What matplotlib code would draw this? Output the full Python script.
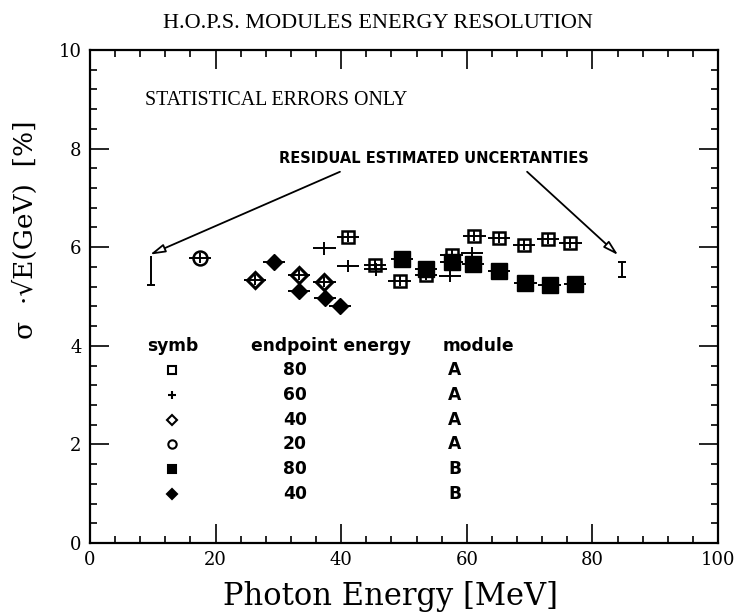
import numpy as np
import matplotlib.pyplot as plt

# data (photon energy [MeV], sigma*sqrt(E) [%])
a80_x = [41.1, 45.4, 49.3, 53.5, 57.6, 61.2, 65.1, 69.1, 72.9, 76.5]
a80_y = [6.20, 5.64, 5.31, 5.43, 5.84, 6.22, 6.19, 6.05, 6.16, 6.08]

a60_x = [37.3, 41.1, 45.5, 57.3, 60.8]
a60_y = [5.98, 5.62, 5.55, 5.42, 5.88]

a40_x = [26.3, 33.3, 37.3]
a40_y = [5.33, 5.43, 5.29]

a20_x = [17.5]
a20_y = [5.78]

b80_x = [49.7, 53.5, 57.6, 61.0, 65.1, 69.3, 73.2, 77.2]
b80_y = [5.76, 5.56, 5.70, 5.66, 5.52, 5.27, 5.23, 5.25]

b40_x = [29.3, 33.3, 37.4, 39.8]
b40_y = [5.70, 5.11, 4.97, 4.81]

# residual estimated uncertainties
res_x = [9.7, 84.7]
res_lo = [5.23, 5.40]
res_hi = [5.82, 5.70]

leg_symb = ['s', '+', 'D', 'o', 's', 'D']
leg_fill = [False, False, False, False, True, True]
leg_energy = ['80', '60', '40', '20', '80', '40']
leg_module = ['A', 'A', 'A', 'A', 'B', 'B']

XERR = 1.8
YERR = 0.1

fig = plt.figure(figsize=(7.39, 6.15), dpi=100)
ax = fig.add_axes([0.1218, 0.1171, 0.8498, 0.8016])

eb = dict(ecolor='black', elinewidth=1.4, capsize=0, linestyle='none', color='black')

ax.errorbar(a80_x, a80_y, xerr=XERR, yerr=YERR, marker='s', ms=9, mfc='none',
            mec='black', mew=1.8, **eb)
ax.errorbar(a60_x, a60_y, xerr=XERR, yerr=0.13, marker='', **eb)
ax.errorbar(a40_x, a40_y, xerr=XERR, yerr=YERR, marker='D', ms=8, mfc='none',
            mec='black', mew=2.2, **eb)
ax.errorbar(a20_x, a20_y, xerr=XERR, yerr=YERR, marker='o', ms=10, mfc='none',
            mec='black', mew=1.8, **eb)
ax.errorbar(b80_x, b80_y, xerr=XERR, yerr=YERR, marker='s', ms=11, mfc='black',
            mec='black', **eb)
ax.errorbar(b40_x, b40_y, xerr=XERR, yerr=YERR, marker='D', ms=8, mfc='black',
            mec='black', **eb)

# residual uncertainty bars
ax.vlines(res_x, res_lo, res_hi, color='black', lw=1.4)
ax.hlines(res_lo, [x - 0.7 for x in res_x], [x + 0.7 for x in res_x], color='black', lw=1.4)
ax.hlines(res_hi[1], res_x[1] - 0.7, res_x[1] + 0.7, color='black', lw=1.4)

arrow = dict(arrowstyle='-|>,head_length=0.9,head_width=0.25', fc='white',
             ec='black', lw=1.3, shrinkA=0, shrinkB=0)
ax.annotate('', xy=(9.55, 5.85), xytext=(39.8, 7.53), arrowprops=arrow)
ax.annotate('', xy=(84.1, 5.84), xytext=(69.6, 7.53), arrowprops=arrow)

ax.text(54.8, 7.8, 'RESIDUAL ESTIMATED UNCERTANTIES', ha='center', va='center',
        fontsize=10.5, fontweight='bold', family='Liberation Sans Narrow')
ax.text(8.8, 8.97, 'STATISTICAL ERRORS ONLY', ha='left', va='center',
        fontsize=14.3, family='Liberation Serif')

# symbol table
hdr_y = 4.0
row_y = [3.5, 3.0, 2.5, 2.0, 1.5, 1.0]
tkw = dict(fontsize=12.3, fontweight='bold', family='DejaVu Sans', va='center')
ax.text(13.1, hdr_y, 'symb', ha='center', **tkw)
ax.text(38.4, hdr_y, 'endpoint energy', ha='center', **tkw)
ax.text(56.2, hdr_y, 'module', ha='left', **tkw)
for i in range(len(row_y)):
    fc = 'black' if leg_fill[i] else 'none'
    ms = 6 if leg_symb[i] != 'D' else 5
    ax.plot(13.1, row_y[i], marker=leg_symb[i], ms=ms, mfc=fc, mec='black',
            mew=1.5, color='black', linestyle='none')
    ax.text(32.6, row_y[i], leg_energy[i], ha='center', **tkw)
    ax.text(57.0, row_y[i], leg_module[i], ha='left', **tkw)

ax.set_xlim(0, 100)
ax.set_ylim(0, 10)
ax.set_xticks(np.arange(0, 101, 20))
ax.set_xticks(np.arange(0, 101, 4), minor=True)
ax.set_yticks(np.arange(0, 11, 2))
ax.set_yticks(np.arange(0, 10.01, 0.4), minor=True)
ax.tick_params(which='both', direction='in', top=True, right=True, width=1.2)
ax.tick_params(which='major', length=14)
ax.tick_params(which='minor', length=5)
ax.tick_params(which='major', labelsize=13, pad=6)
for lab in ax.get_xticklabels() + ax.get_yticklabels():
    lab.set_family('DejaVu Serif')
for s in ax.spines.values():
    s.set_linewidth(1.6)

fig.text(0.528, 0.03, 'Photon Energy [MeV]', ha='center', va='center',
         fontsize=22, family='DejaVu Serif')
fig.text(0.034, 0.626, 'σ  ·√E(GeV)  [%]', rotation=90, ha='center', va='center',
         fontsize=19, family='DejaVu Serif')
fig.text(0.511, 0.962, 'H.O.P.S. MODULES ENERGY RESOLUTION', ha='center', va='center',
         fontsize=16, family='Liberation Serif')

fig.savefig('out.png', dpi=100)
